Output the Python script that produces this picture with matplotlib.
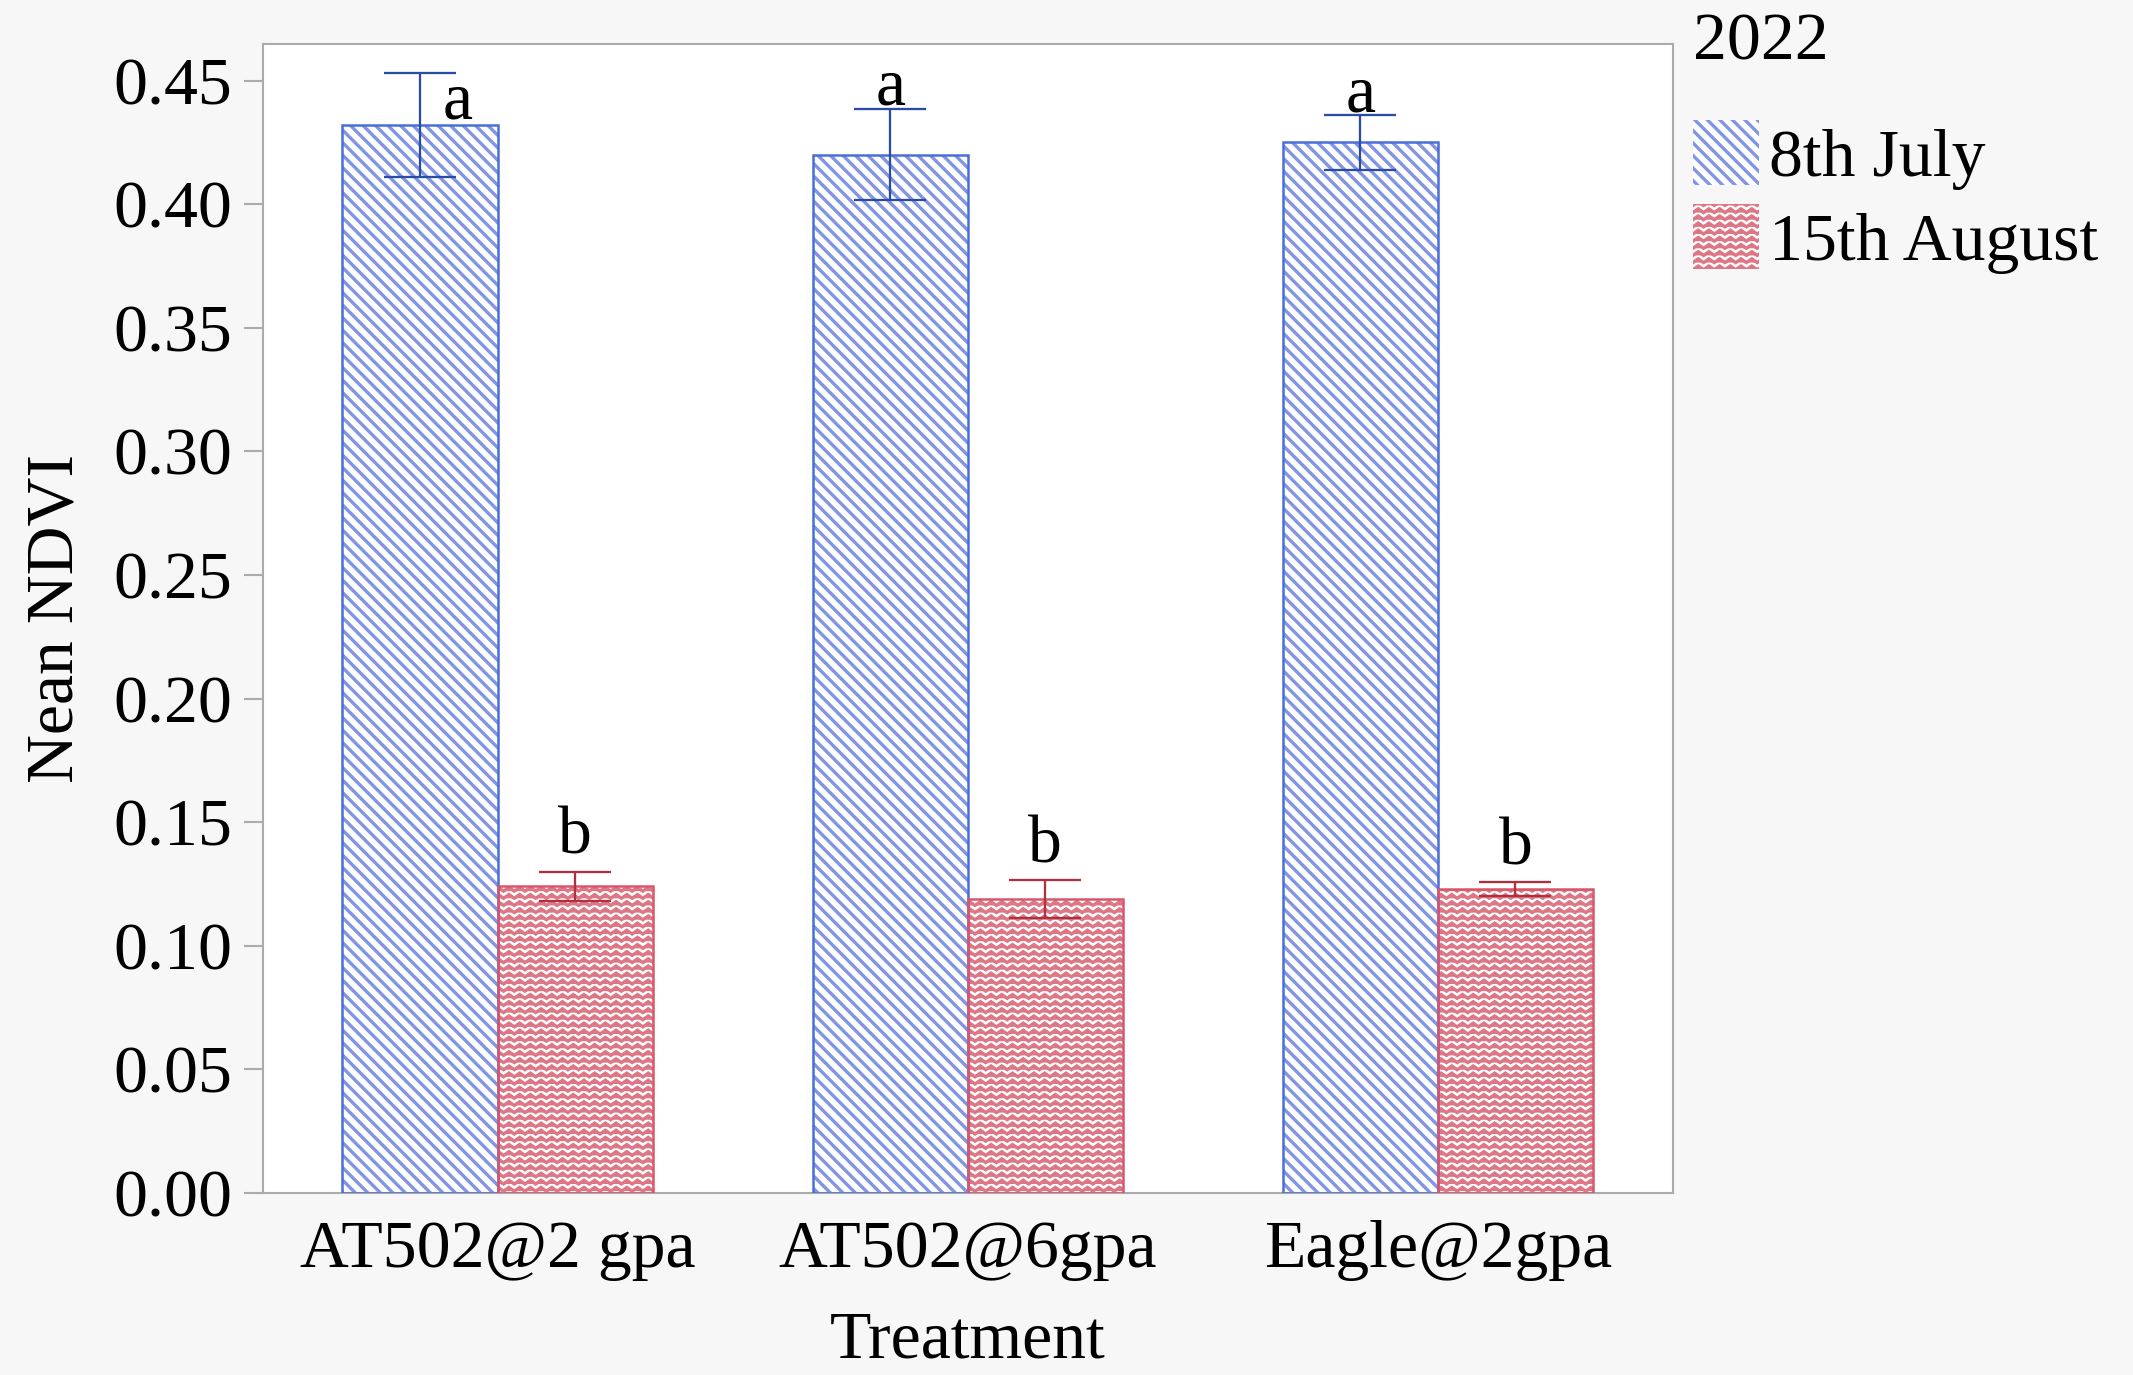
import warnings
import numpy as np
import matplotlib
matplotlib.use("Agg")
import matplotlib.pyplot as plt
from matplotlib import hatch as mhatch
from matplotlib.path import Path

warnings.filterwarnings("ignore")

# ---------------- data ----------------
treatments = ["AT502@2 gpa", "AT502@6gpa", "Eagle@2gpa"]
series_names = ["8th July", "15th August"]
july_mean = [0.432, 0.420, 0.425]
july_err = [0.021, 0.0185, 0.011]
august_mean = [0.124, 0.119, 0.123]
august_err = [0.006, 0.0077, 0.0027]
july_letters = ["a", "a", "a"]
august_letters = ["b", "b", "b"]
yticks = [0.00, 0.05, 0.10, 0.15, 0.20, 0.25, 0.30, 0.35, 0.40, 0.45]
legend_title = "2022"


# ---------------- custom zigzag hatch ----------------
class ZigZagHatch(mhatch.HatchPatternBase):
    def __init__(self, hatch, density):
        n = hatch.count('z')
        self.num_rows = n * 21
        self.teeth = 14
        self.num_vertices = self.num_rows * (2 * self.teeth + 1)

    def set_vertices_and_codes(self, vertices, codes):
        amp = 0.0125
        npts = 2 * self.teeth + 1
        xs = np.linspace(0, 1, npts)
        offs = np.where(np.arange(npts) % 2 == 0, -amp, amp)
        k = 0
        for i in range(self.num_rows):
            y0 = (i + 0.5) / self.num_rows
            vertices[k:k + npts, 0] = xs
            vertices[k:k + npts, 1] = y0 + offs
            codes[k] = Path.MOVETO
            codes[k + 1:k + npts] = Path.LINETO
            k += npts


mhatch._hatch_types.append(ZigZagHatch)
mhatch._validate_hatch_pattern = lambda h: None

BS = chr(92)

# ---------------- style ----------------
plt.rcParams['font.family'] = ['Liberation Serif', 'DejaVu Serif']
plt.rcParams['hatch.linewidth'] = 1.6
FS = 32.5

blue_edge = '#4a6fd8'
blue_hatch = '#8195e4'
blue_err = '#2b4ca6'
red_edge = '#d9566a'
red_hatch = '#dd7786'
red_err = '#b0303f'
spine_c = '#ababab'

fig = plt.figure(figsize=(2133 / 150, 1375 / 150), dpi=150)
fig.patch.set_facecolor('#f7f7f7')
ax = fig.add_axes([262.5 / 2133, 1 - 1193 / 1375, (1673 - 262.5) / 2133, (1193 - 43.5) / 1375])
ax.set_facecolor('white')

x = np.arange(len(treatments))
w = 0.33

# hatched fills (no outline)
hb = ax.bar(x - w / 2, july_mean, w, facecolor='white', edgecolor=blue_hatch,
            hatch=BS * 4, linewidth=0, label=series_names[0], zorder=2)
hr = ax.bar(x + w / 2, august_mean, w, facecolor='white', edgecolor=red_hatch,
            hatch='z', linewidth=0, label=series_names[1], zorder=2)
# outlines
ax.bar(x - w / 2, july_mean, w, facecolor='none', edgecolor=blue_edge, linewidth=1.2, zorder=3)
ax.bar(x + w / 2, august_mean, w, facecolor='none', edgecolor=red_edge, linewidth=1.2, zorder=3)

# error bars
ax.errorbar(x - w / 2, july_mean, yerr=july_err, fmt='none', ecolor=blue_err,
            elinewidth=1.1, capsize=17.5, capthick=1.1, zorder=4)
ax.errorbar(x + w / 2, august_mean, yerr=august_err, fmt='none', ecolor=red_err,
            elinewidth=1.1, capsize=17.5, capthick=1.1, zorder=4)

# significance letters
for i in range(len(treatments)):
    if i == 0:
        ax.annotate(july_letters[i], (x[i] - w / 2, july_mean[i]), xytext=(11, 3),
                    textcoords='offset points', ha='left', va='baseline', fontsize=FS, zorder=5)
    else:
        ax.annotate(july_letters[i], (x[i] - w / 2, july_mean[i] + july_err[i]), xytext=(0, 2),
                    textcoords='offset points', ha='center', va='baseline', fontsize=FS, zorder=5)
    ax.annotate(august_letters[i], (x[i] + w / 2, august_mean[i] + august_err[i]), xytext=(0, 8.5),
                textcoords='offset points', ha='center', va='baseline', fontsize=FS, zorder=5)

ax.set_xlim(-0.5, 2.5)
ax.set_ylim(0, 0.465)
ax.set_yticks(yticks)
ax.set_yticklabels([f"{v:.2f}" for v in yticks])
ax.set_xticks(x)
ax.set_xticklabels(treatments)
ax.tick_params(axis='y', length=9, width=1.0, color=spine_c, pad=5.5, labelsize=FS)
ax.tick_params(axis='x', length=0, pad=13, labelsize=FS)
for s in ax.spines.values():
    s.set_color(spine_c)
    s.set_linewidth(1.0)

ax.set_ylabel("Nean NDVI", fontsize=FS, labelpad=13)
ax.set_xlabel("Treatment", fontsize=FS, labelpad=14)

fig.text(1693 / 2133, 1 - 60 / 1375, legend_title, fontsize=FS, ha='left', va='baseline')
fig.legend(handles=[hb, hr], labels=series_names, loc='upper left',
           bbox_to_anchor=(1693 / 2133, 1 - 120 / 1375), frameon=False,
           fontsize=FS, borderpad=0, borderaxespad=0, handlelength=0.97,
           handleheight=1.1, handletextpad=0.15, labelspacing=0.22)

fig.savefig("out.png", dpi=150, facecolor=fig.get_facecolor())
